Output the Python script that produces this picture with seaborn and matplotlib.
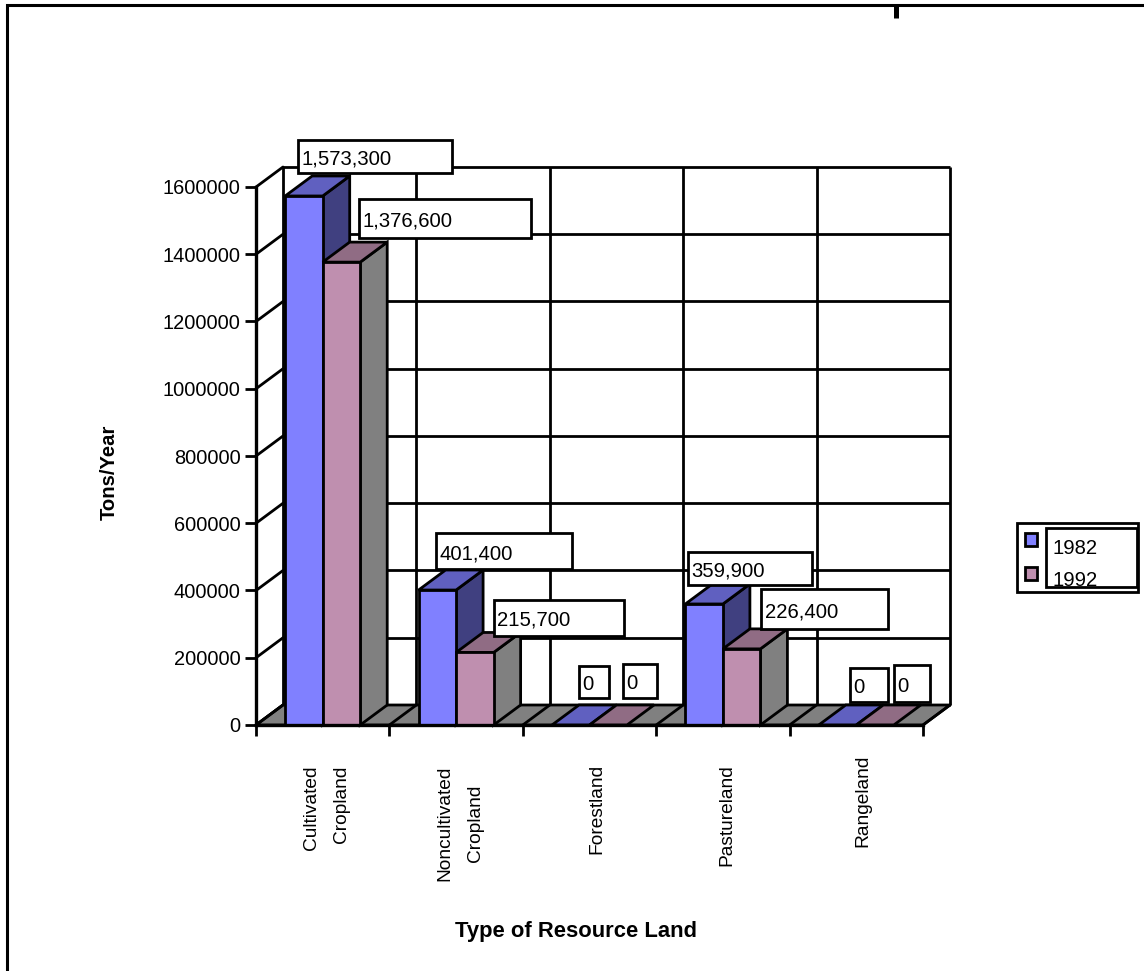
import matplotlib
matplotlib.use("Agg")
import matplotlib.pyplot as plt
from matplotlib.patches import Polygon, Rectangle
from matplotlib.transforms import Affine2D, IdentityTransform, ScaledTranslation
import pandas as pd
import seaborn as sns

# Values
categories = ["Cultivated\nCropland", "Noncultivated\nCropland", "Forestland", "Pastureland", "Rangeland"]
values_1982 = [1573300, 401400, 0, 359900, 0]
values_1992 = [1376600, 215700, 0, 226400, 0]
years = ["1982", "1992"]
y_ticks = [0, 200000, 400000, 600000, 800000, 1000000, 1200000, 1400000, 1600000]

# Layout, in pixels of the 1144x971 canvas
W, H = 1144, 971
PLOT_L, PLOT_R, PLOT_T, PLOT_B = 256, 923, 187, 725
DX, DY = 27, 20  # depth of the pseudo-3D box
LW = 2.0
FS = 14.6
# value-label boxes: x0, y0, x1, y1 for each bar of each series
boxes_1982 = [(298, 140, 452, 173), (436, 533, 572, 569), (579, 666, 609, 698),
              (688, 552, 812, 585), (850, 668, 888, 702)]
boxes_1992 = [(359, 199, 531, 238), (494, 600, 624, 636), (623, 664, 657, 698),
              (761, 589, 888, 629), (894, 665, 930, 702)]
# nudges of the category labels: dx, dy in pixels
label_nudge = [(3, 0), (3, 0), (5, -1), (3, -1), (5, -8)]

# Colours
FACE = {"1982": "#8080FF", "1992": "#BF8FAF"}
TOP = {"1982": "#6060C0", "1992": "#906C84"}
SIDE = {"1982": "#404080", "1992": "#808080"}
FLOOR = "#808080"

sns.set_theme(style="white")
plt.rcParams["font.family"] = ["Liberation Sans", "DejaVu Sans"]

df = pd.DataFrame({
    "land": categories * 2,
    "year": [years[0]] * 5 + [years[1]] * 5,
    "tons": values_1982 + values_1992,
})

fig = plt.figure(figsize=(W / 100, H / 100), dpi=100, facecolor="white")
ax = fig.add_axes([PLOT_L / W, 1 - PLOT_B / H, (PLOT_R - PLOT_L) / W, (PLOT_B - PLOT_T) / H])
ax.patch.set_alpha(0)

sns.barplot(data=df, x="land", y="tons", hue="year", order=categories, hue_order=years,
            palette=FACE, saturation=1, width=0.5625, edgecolor="black", linewidth=LW,
            legend=False, ax=ax, zorder=3)
ax.set_xlim(-0.5, 4.5)
ax.set_ylim(0, 1600000)

px = IdentityTransform()
back = ax.transData + Affine2D().translate(DX, DY)


def shifted(x, y):
    """Display position of a data point pushed to the rear of the box."""
    a, b = ax.transData.transform((x, y))
    return (a + DX, b + DY)


def front(x, y):
    return tuple(ax.transData.transform((x, y)))


# Rear wall grid
ax.hlines(y_ticks, -0.5, 4.5, colors="black", lw=LW, transform=back, clip_on=False, zorder=0.5)
ax.vlines([i - 0.5 for i in range(6)], 0, 1600000, colors="black", lw=LW, transform=back,
          clip_on=False, zorder=0.5)
# Side wall rungs
for t in y_ticks:
    a, b = front(-0.5, t), shifted(-0.5, t)
    ax.plot([a[0], b[0]], [a[1], b[1]], color="black", lw=LW, transform=px, clip_on=False, zorder=0.6)
# Floor
ax.add_patch(Polygon([front(-0.5, 0), front(4.5, 0), shifted(4.5, 0), shifted(-0.5, 0)],
                     closed=True, fc=FLOOR, ec="black", lw=LW, transform=px, clip_on=False, zorder=1))
for i in range(6):
    a, b = front(i - 0.5, 0), shifted(i - 0.5, 0)
    ax.plot([a[0], b[0]], [a[1], b[1]], color="black", lw=LW, transform=px, clip_on=False, zorder=1.1)

# Extrude each bar: the later series sits in front of the side of the earlier one
bars = list(ax.patches)[:10]
for n, bar in enumerate(bars):
    year = years[n // 5]
    x0, x1 = bar.get_x(), bar.get_x() + bar.get_width()
    h = bar.get_height()
    base = 3 + 3 * (n // 5)
    bar.set_zorder(base + 2)
    bar.set_clip_on(False)
    if h > 0:
        ax.add_patch(Polygon([front(x1, 0), front(x1, h), shifted(x1, h), shifted(x1, 0)], closed=True,
                             fc=SIDE[year], ec="black", lw=LW, transform=px, clip_on=False, zorder=base))
    ax.add_patch(Polygon([front(x0, h), front(x1, h), shifted(x1, h), shifted(x0, h)], closed=True,
                         fc=TOP[year], ec="black", lw=LW, transform=px, clip_on=False, zorder=base + 1))

# Axes furniture
for s in ("top", "right"):
    ax.spines[s].set_visible(False)
for s in ("left", "bottom"):
    ax.spines[s].set_linewidth(2.4)
    ax.spines[s].set_color("black")
    ax.spines[s].set_zorder(12)
ax.set_yticks(y_ticks)
ax.set_yticklabels([str(t) for t in y_ticks], fontsize=FS - 0.2, color="black")
ax.tick_params(axis="y", length=8, width=LW, pad=3, left=True, color="black")
ax.set_xticks([i - 0.5 for i in range(6)])
ax.set_xticklabels([])
ax.tick_params(axis="x", which="major", length=8, width=LW, bottom=True, color="black")
ax.set_xticks(range(5), categories, minor=True)
ax.tick_params(axis="x", which="minor", length=0, pad=29, labelsize=FS - 0.8, labelrotation=90, labelcolor="black")
for lab, (dx, dy) in zip(ax.get_xticklabels(minor=True), label_nudge):
    lab.set_linespacing(2.0)
    lab.set_multialignment("right" if lab.get_text().startswith("Cult") else "center")
    lab.set_transform(lab.get_transform() + ScaledTranslation(dx / 72, -dy / 72, fig.dpi_scale_trans))

ax.set_xlabel("Type of Resource Land", fontsize=15.8, fontweight="bold", color="black", va="center")
ax.xaxis.set_label_coords(0.48, (PLOT_B - 931) / (PLOT_B - PLOT_T))
ax.set_ylabel("Tons/Year", fontsize=14.6, fontweight="bold", color="black", va="center")
ax.yaxis.set_label_coords((109 - PLOT_L) / (PLOT_R - PLOT_L), (PLOT_B - 472) / (PLOT_B - PLOT_T))

# Overlay working in canvas pixels for the annotation boxes, legend and outer frame
ov = fig.add_axes([0, 0, 1, 1], zorder=20)
ov.set_xlim(0, W)
ov.set_ylim(H, 0)
ov.axis("off")

for values, boxes in ((values_1982, boxes_1982), (values_1992, boxes_1992)):
    for v, (x0, y0, x1, y1) in zip(values, boxes):
        ov.add_patch(Rectangle((x0, y0), x1 - x0, y1 - y0, fc="white", ec="black", lw=LW))
        ov.text(x0 + 3.5, (y0 + y1) / 2 + 0.5, f"{v:,}", fontsize=FS, color="black", ha="left", va="center_baseline")

# Legend
ov.add_patch(Rectangle((1017, 523), 121, 69, fc="white", ec="black", lw=LW))
for year, key_y, text_y in zip(years, (533, 567), (547, 579)):
    ov.add_patch(Rectangle((1025, key_y), 12, 13, fc=FACE[year], ec="black", lw=LW))
    ov.text(1052, text_y, year, fontsize=FS, color="black", ha="left", va="center_baseline")
ov.add_patch(Rectangle((1046, 528), 91, 59, fc="none", ec="black", lw=LW))

# Outer frame with its stray notch
ov.plot([7, 7, W], [H, 5, 5], color="black", lw=2.2, solid_joinstyle="miter", clip_on=False)
ov.plot([896, 896], [6, 18], color="black", lw=3.6, solid_capstyle="butt")

fig.savefig("out.png", dpi=100)
